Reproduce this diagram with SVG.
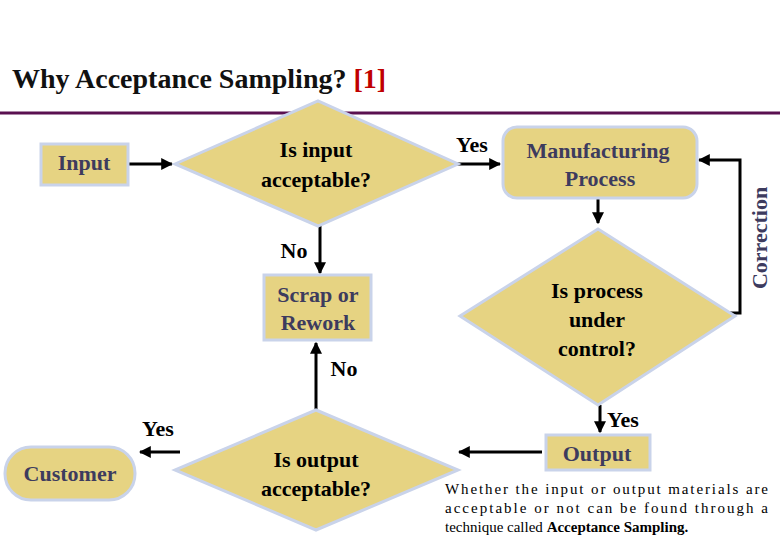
<svg xmlns="http://www.w3.org/2000/svg" width="780" height="540" viewBox="0 0 780 540">
<defs>
<marker id="ah" viewBox="0 0 10 10" refX="9" refY="5" markerWidth="4" markerHeight="4" orient="auto"><path d="M0,0 L10,5 L0,10 z" fill="#000"/></marker>
<style>
.sh{fill:#e6d382;stroke:#c9d3ea;stroke-width:3}
.t{font-family:"Liberation Serif",serif;font-size:22px;text-anchor:middle;font-weight:bold}
.bl{fill:#3d3b5e}
.bk{fill:#000}
.c{stroke:#000;stroke-width:3;fill:none}
.p{font-family:"Liberation Serif",serif;font-size:15px}
</style>
</defs>
<rect width="780" height="540" fill="#fff"/>
<text x="12" y="88" font-family="Liberation Serif,serif" font-size="28" font-weight="bold" fill="#111">Why Acceptance Sampling? <tspan fill="#c00000">[1]</tspan></text>
<line x1="0" y1="113" x2="780" y2="113" stroke="#5a1050" stroke-width="3"/>
<g id="connectors">
<line class="c" x1="128" y1="164" x2="172" y2="164" marker-end="url(#ah)"/>
<line class="c" x1="320" y1="226" x2="320" y2="273" marker-end="url(#ah)"/>
<line class="c" x1="316" y1="418" x2="316" y2="343" marker-end="url(#ah)"/>
<line class="c" x1="456" y1="164" x2="500" y2="164" marker-end="url(#ah)"/>
<polyline class="c" points="730,313 740,313 740,160 699,160" marker-end="url(#ah)"/>
<line class="c" x1="598" y1="198" x2="598" y2="223" marker-end="url(#ah)"/>
<line class="c" x1="600" y1="405" x2="600" y2="432" marker-end="url(#ah)"/>
<line class="c" x1="542" y1="452" x2="459" y2="452" marker-end="url(#ah)"/>
<line class="c" x1="180" y1="452" x2="140" y2="452" marker-end="url(#ah)"/>
<text class="t bk" x="294" y="258">No</text>
<text class="t bk" x="344" y="376">No</text>
<text class="t bk" x="472" y="152">Yes</text>
<text class="t bk" x="623" y="427">Yes</text>
<text class="t bk" x="158" y="436">Yes</text>
<text class="t bl" transform="translate(767,238) rotate(-90)">Correction</text>
</g>
<g id="input"><rect class="sh" x="41" y="144" width="87" height="41"/><text class="t bl" x="84" y="170">Input</text></g>
<g id="d1"><polygon class="sh" points="175,164 318,101 458,164 318,226"/><text class="t bk" x="316" y="157">Is input</text><text class="t bk" x="316" y="187">acceptable?</text></g>
<g id="scrap"><rect class="sh" x="264" y="275" width="107" height="65"/><text class="t bl" x="318" y="302">Scrap or</text><text class="t bl" x="318" y="330">Rework</text></g>
<g id="mfg"><rect class="sh" x="503" y="127" width="194" height="71" rx="14"/><text class="t bl" x="598" y="158">Manufacturing</text><text class="t bl" x="600" y="186">Process</text></g>
<g id="d2"><polygon class="sh" points="598,229 735,316 598,405 460,316"/><text class="t bk" x="597" y="298">Is process</text><text class="t bk" x="597" y="327">under</text><text class="t bk" x="597" y="356">control?</text></g>
<g id="output"><rect class="sh" x="546" y="435" width="104" height="35"/><text class="t bl" x="597" y="461">Output</text></g>
<g id="d3"><polygon class="sh" points="316,410 175,470 316,530 458,470"/><text class="t bk" x="316" y="467">Is output</text><text class="t bk" x="316" y="496">acceptable?</text></g>
<g id="customer"><rect class="sh" x="5" y="447" width="130" height="53" rx="26"/><text class="t bl" x="70" y="481">Customer</text></g>
<g id="note" class="p">
<text x="445" y="494" textLength="323" lengthAdjust="spacing">Whether the input or output materials are</text>
<text x="445" y="513" textLength="323" lengthAdjust="spacing">acceptable or not can be found through a</text>
<text x="445" y="532">technique called <tspan font-weight="bold">Acceptance Sampling.</tspan></text>
</g>
</svg>
